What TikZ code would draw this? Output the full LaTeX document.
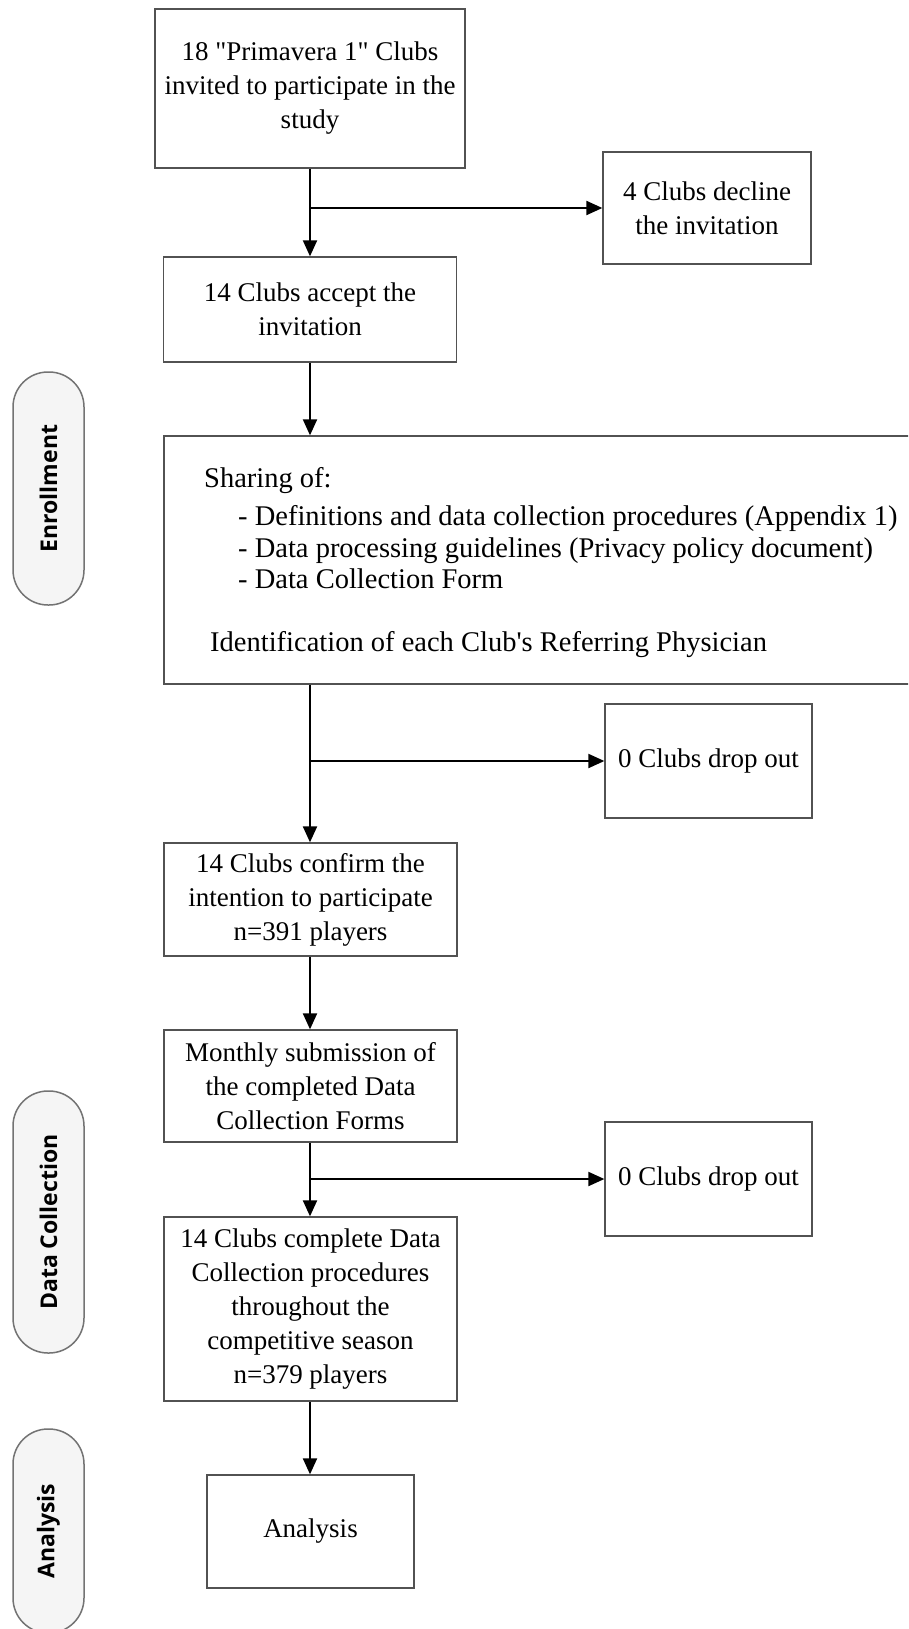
\documentclass[tikz,border=0pt]{standalone}
\usepackage{fontspec}
\setmainfont{Liberation Serif}
\newfontfamily\pillfont{Open Sans}
\usetikzlibrary{arrows.meta}
\begin{document}
\begin{tikzpicture}[x=1pt,y=-1pt,
  box/.style={draw=black!68, line width=1.3pt, fill=white, align=center,
    font=\fontsize{27}{34}\selectfont, inner sep=0pt},
  bigtext/.style={anchor=base west, inner sep=0pt, font=\fontsize{28.5}{32}\selectfont},
  pill/.style={draw=black!55, line width=1.5pt, fill=black!4, rounded corners=35pt,
    minimum height=71pt, inner sep=0pt, rotate=90,
    font=\pillfont\bfseries\fontsize{23}{27}\selectfont},
  arr/.style={line width=2pt, -{Triangle[length=16pt,width=14pt]}},
]
\clip (0,0) rectangle (908,1629);
\fill[white] (0,0) rectangle (908,1629);

% side pills
\node[pill, minimum width=233pt] (penr) at (48.5,488.5) {Enrollment};
\node[pill, minimum width=262pt] (pdat) at (48.5,1222) {Data Collection};
\node[pill, minimum width=204pt] (pana) at (48.5,1531) {Analysis};

% main boxes
\node[box, minimum width=310pt, minimum height=159pt] (b1) at (310,88.5)
  {18 \textquotedbl Primavera 1\textquotedbl{} Clubs\\invited to participate in the\\study};
\node[box, minimum width=208pt, minimum height=112pt] (dec) at (707,208)
  {4 Clubs decline\\the invitation};
\node[box, minimum width=293pt, minimum height=105pt] (b2) at (310,309.5)
  {14 Clubs accept the\\invitation};
\node[box, minimum width=748pt, minimum height=248pt] (big) at (538,560) {};
\node[box, minimum width=207pt, minimum height=114pt] (drop1) at (708.5,761)
  {0 Clubs drop out};
\node[box, minimum width=293pt, minimum height=113pt] (conf) at (310.5,899.5)
  {14 Clubs confirm the\\intention to participate\\n=391 players};
\node[box, minimum width=293pt, minimum height=112pt] (month) at (310.5,1086)
  {Monthly submission of\\the completed Data\\Collection Forms};
\node[box, minimum width=207pt, minimum height=114pt] (drop2) at (708.5,1179)
  {0 Clubs drop out};
\node[box, minimum width=293pt, minimum height=184pt] (comp) at (310.5,1309)
  {14 Clubs complete Data\\Collection procedures\\throughout the\\competitive season\\n=379 players};
\node[box, minimum width=207pt, minimum height=113pt] (ana) at (310.5,1531.5)
  {Analysis};

% text of the big box
\node[bigtext] (t1) at (204,487) {Sharing of:};
\node[bigtext] (t2) at (238,525) {- Definitions and data collection procedures (Appendix 1)};
\node[bigtext] (t3) at (238,557) {- Data processing guidelines (Privacy policy document)};
\node[bigtext] (t4) at (238,588) {- Data Collection Form};
\node[bigtext] (t5) at (210,651) {Identification of each Club\textquotesingle s Referring Physician};

% connectors
\coordinate (col) at (310,0);
\draw[arr] (col |- b1.south) -- (col |- b2.north);
\draw[arr] (col |- dec.west) -- (dec.west);
\draw[arr] (col |- b2.south) -- (col |- big.north);
\draw[arr] (col |- big.south) -- (col |- conf.north);
\draw[arr] (col |- drop1.west) -- (drop1.west);
\draw[arr] (col |- conf.south) -- (col |- month.north);
\draw[arr] (col |- month.south) -- (col |- comp.north);
\draw[arr] (col |- drop2.west) -- (drop2.west);
\draw[arr] (col |- comp.south) -- (col |- ana.north);
\end{tikzpicture}
\end{document}
